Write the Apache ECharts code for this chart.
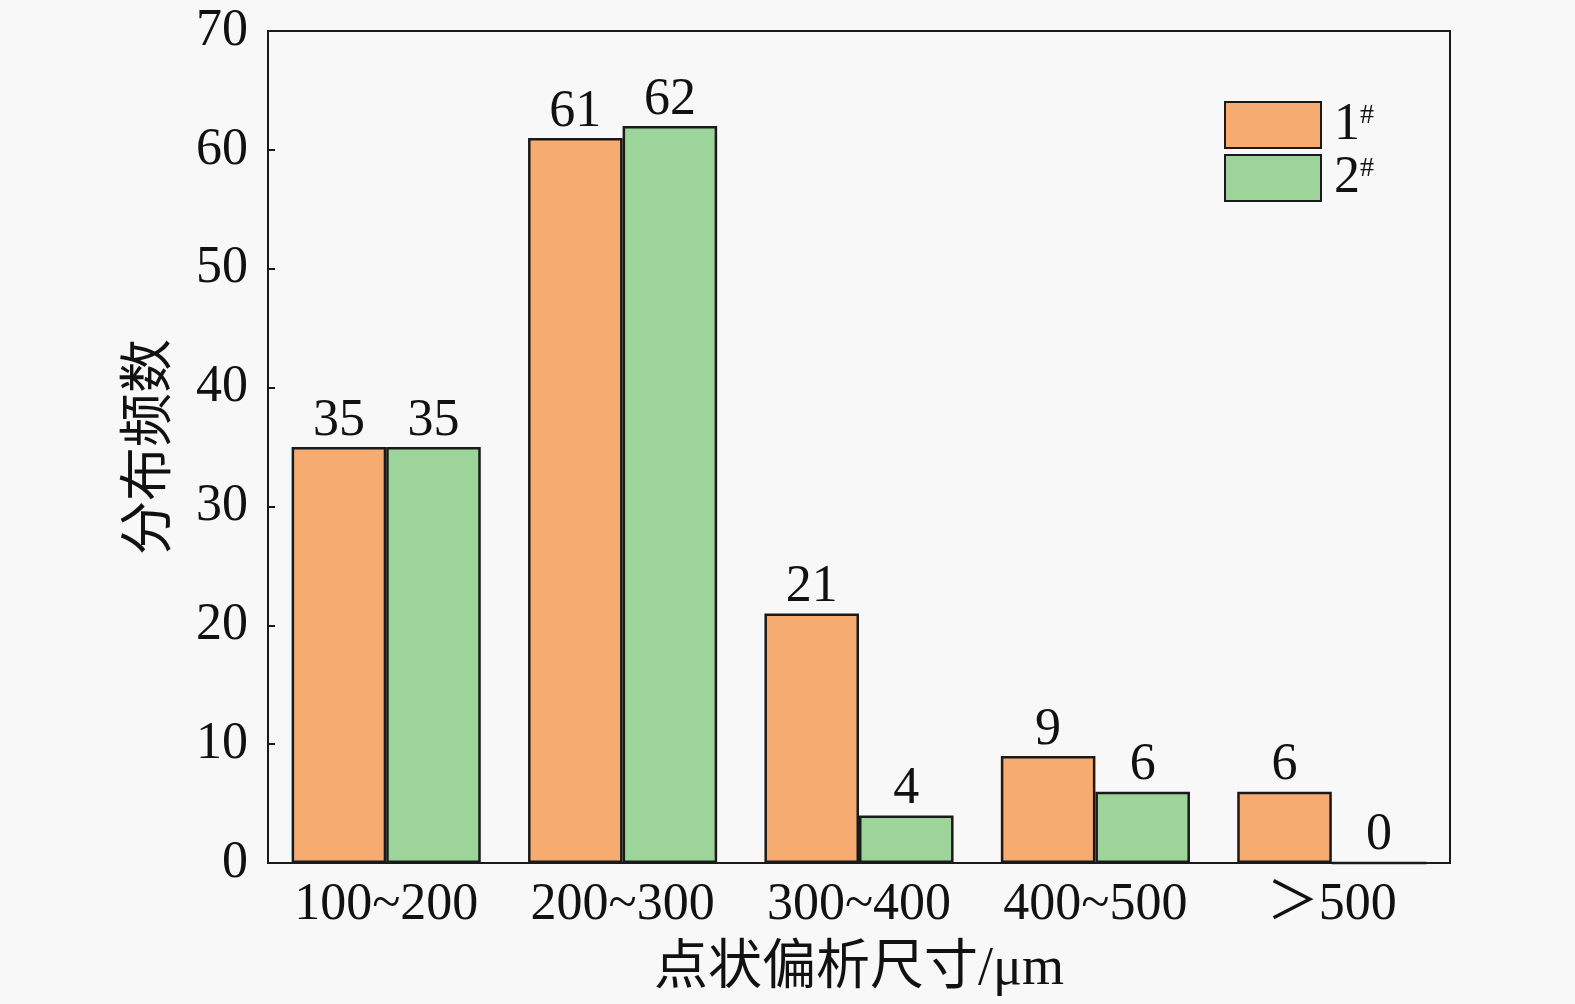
<!DOCTYPE html>
<html><head><meta charset="utf-8">
<script src="https://cdn.jsdelivr.net/npm/echarts@6/dist/echarts.min.js"></script>
<style>html,body{margin:0;padding:0;background:#f8f8f8;}#c{width:1575px;height:1004px;}</style>
</head><body><div id="c"></div>
<script>
const categories = ['100~200', '200~300', '300~400', '400~500', '＞500'];
const series1 = [35, 61, 21, 9, 6];
const series2 = [35, 62, 4, 6, 0];
const seriesNames = ['1', '2'];
const yTicks = {min: 0, max: 70, interval: 10};

const serif = '"Liberation Serif", "Noto Sans CJK SC", serif';
const chart = echarts.init(document.getElementById('c'));
const labelStyle = {show: true, position: 'top', color: '#111', fontFamily: serif, fontSize: 52, distance: 0};
chart.setOption({
  backgroundColor: '#f8f8f8',
  animation: false,
  grid: {left: 268, top: 31, width: 1182, height: 832, show: true, borderColor: '#1a1a1a', borderWidth: 2, backgroundColor: 'transparent'},
  legend: {
    right: 196, top: 94, orient: 'vertical', itemWidth: 96, itemHeight: 46, itemGap: 1, icon: 'rect',
    itemStyle: {borderColor: '#1a1a1a', borderWidth: 2},
    textStyle: {fontFamily: serif, fontSize: 52, color: '#111', lineHeight: 46,
      rich: {b: {fontFamily: serif, fontSize: 52, color: '#111', lineHeight: 46, padding: [0,0,0,8]},
             s: {fontFamily: serif, fontSize: 28, color: '#111', lineHeight: 28, verticalAlign: 'top'}}},
    formatter: n => '{b|' + n + '}{s|#}',
    data: seriesNames
  },
  xAxis: {
    type: 'category', data: categories,
    name: '点状偏析尺寸/μm', nameLocation: 'middle', nameGap: 80,
    nameTextStyle: {fontFamily: serif, fontSize: 54, color: '#111'},
    axisLine: {lineStyle: {color: '#1a1a1a', width: 2}},
    axisTick: {show: false},
    axisLabel: {fontFamily: serif, fontSize: 52, color: '#111', margin: 16, interval: 0, hideOverlap: false}
  },
  yAxis: {
    type: 'value', min: yTicks.min, max: yTicks.max, interval: yTicks.interval,
    name: '分布频数', nameLocation: 'middle', nameGap: 89, nameRotate: 90,
    nameTextStyle: {fontFamily: serif, fontSize: 54, color: '#111'},
    axisLine: {show: true, lineStyle: {color: '#1a1a1a', width: 2}},
    axisTick: {show: true, inside: true, length: 7, lineStyle: {color: '#1a1a1a', width: 2}},
    splitLine: {show: false},
    axisLabel: {fontFamily: serif, fontSize: 52, color: '#111', margin: 20}
  },
  series: [
    {name: seriesNames[0], type: 'bar', data: series1, barWidth: '40%', barGap: '0%',
     itemStyle: {color: '#F6AB70', borderColor: '#1a1a1a', borderWidth: 2.5}, label: labelStyle},
    {name: seriesNames[1], type: 'bar', data: series2, barWidth: '40%', barGap: '0%',
     itemStyle: {color: '#9DD49A', borderColor: '#1a1a1a', borderWidth: 2.5}, label: labelStyle}
  ]
});
</script></body></html>
